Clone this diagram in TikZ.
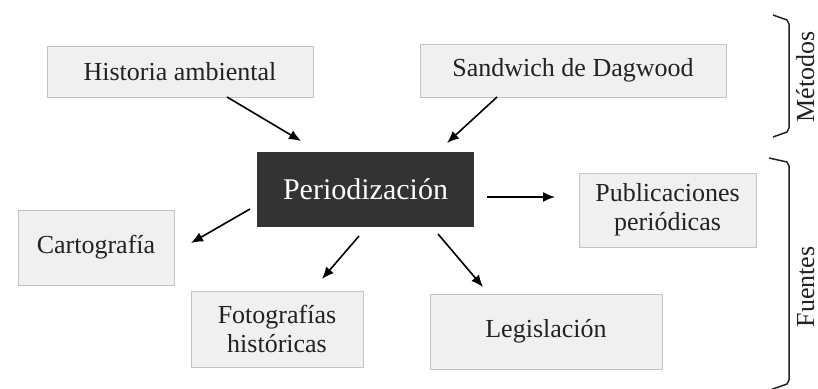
\documentclass[tikz,border=0pt]{standalone}
\usepackage{fontspec}
\setmainfont{Liberation Serif}
\usetikzlibrary{arrows.meta}
\definecolor{boxfill}{HTML}{F0F0F0}
\definecolor{boxline}{HTML}{C4C4C4}
\definecolor{darkfill}{HTML}{333333}
\definecolor{ink}{HTML}{222222}
\begin{document}
\begin{tikzpicture}[x=1pt,y=-1pt,
  lbox/.style={draw=boxline, fill=boxfill, line width=1pt, text=ink,
    font=\fontsize{26}{29}\selectfont, align=center, inner sep=0pt},
  dbox/.style={fill=darkfill, text=white, font=\fontsize{30}{34}\selectfont, inner sep=0pt},
  arr/.style={draw=black, line width=1.6pt, -{Latex[length=12pt,width=10pt]}},
  bracket/.style={draw=ink, line width=1.5pt, line join=round},
  side/.style={font=\fontsize{26}{29}\selectfont, text=ink, rotate=90, anchor=base, inner sep=0pt}]
\useasboundingbox (0,0) rectangle (818,388);
\clip (0,0) rectangle (818,388);

\node[lbox, minimum width=266pt, minimum height=51pt] (hist) at (180,71.5) {Historia ambiental};
\node[lbox, minimum width=306pt, minimum height=53pt] (sand) at (573,70.5) {Sandwich de Dagwood};
\node[dbox, minimum width=217pt, minimum height=75pt] (peri) at (365.5,189.5) {Periodización};
\node[lbox, minimum width=177pt, minimum height=74pt] (publ) at (667.5,210) {Publicaciones\\periódicas};
\node[lbox, minimum width=156pt, minimum height=75pt] (cart) at (96,247.5) {Cartografía};
\node[lbox, minimum width=172pt, minimum height=76pt] (foto) at (277,329) {Fotografías\\históricas};
\node[lbox, minimum width=232pt, minimum height=75pt] (legi) at (546,331.5) {Legislación};

% arrow ends
\coordinate (h1) at (227,97);   \coordinate (h2) at (301,141);
\coordinate (s1) at (497,97);   \coordinate (s2) at (447,143);
\coordinate (p1) at (487,197);  \coordinate (p2) at (555,197);
\coordinate (c1) at (250,209);  \coordinate (c2) at (191,243);
\coordinate (f1) at (359,236);  \coordinate (f2) at (322,279);
\coordinate (l1) at (438,234);  \coordinate (l2) at (483,287);

\draw[arr] (h1) -- (h2);
\draw[arr] (s1) -- (s2);
\draw[arr] (p1) -- (p2);
\draw[arr] (c1) -- (c2);
\draw[arr] (f1) -- (f2);
\draw[arr] (l1) -- (l2);

% brackets
\draw[bracket] (773,15) -- (787,20) -- (789,24) -- (789,128) -- (787,132) -- (773,137);
\draw[bracket] (769,158) -- (787,162) -- (789,166) -- (789,380) -- (787,384) -- (770,390);

\node[side] (meto) at (814,77) {Métodos};
\node[side] (fuen) at (814,287) {Fuentes};
\end{tikzpicture}
\end{document}
